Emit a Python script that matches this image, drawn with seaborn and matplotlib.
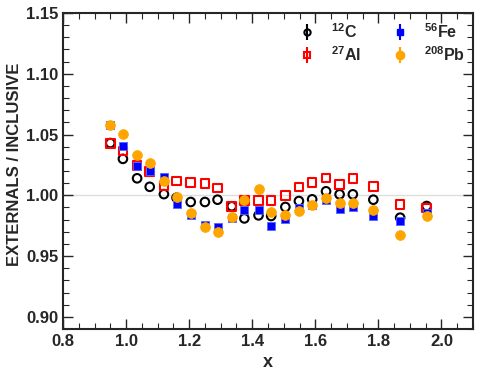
import numpy as np
import pandas as pd
import matplotlib
matplotlib.use('Agg')
import matplotlib.pyplot as plt
from matplotlib.ticker import MultipleLocator, FormatStrFormatter
import seaborn as sns

# x bin centres
x = [0.95, 0.99, 1.035, 1.075, 1.12, 1.16, 1.205, 1.25, 1.29, 1.335, 1.375,
     1.42, 1.46, 1.505, 1.548, 1.59, 1.634, 1.677, 1.719, 1.784, 1.869, 1.953]

# externals / inclusive ratios
c12 = [1.043, 1.030, 1.014, 1.007, 1.001, 0.998, 0.9945, 0.9945, 0.9964, 0.991, 0.981,
       0.9835, 0.9830, 0.9904, 0.9953, 0.9967, 1.0033, 1.0008, 1.0008, 0.9964, 0.9816, 0.9912]
al27 = [1.0426, 1.0365, 1.0245, 1.0198, 1.0077, 1.0118, 1.0104, 1.0096, 1.0060, 0.9909, 0.9959,
        0.9959, 0.9956, 1.0000, 1.0069, 1.0104, 1.0143, 1.0091, 1.0137, 1.0074, 0.9923, 0.9896]
fe56 = [1.0577, 1.0406, 1.0245, 1.0198, 1.0151, 0.9931, 0.9835, 0.9753, 0.9739, 0.9810, 0.9876,
        0.9876, 0.9746, 0.9808, 0.9896, 0.9918, 0.9959, 0.9890, 0.9904, 0.9827, 0.9788, 0.9854]
pb208 = [1.0582, 1.0508, 1.0335, 1.0264, 1.0115, 0.9986, 0.9854, 0.9739, 0.9698, 0.9820, 0.9959,
         1.0055, 0.9866, 0.9835, 0.9868, 0.9918, 0.9978, 0.9940, 0.9940, 0.9876, 0.9676, 0.9827]

labels = [r'$^{12}$C', r'$^{27}$Al', r'$^{56}$Fe', r'$^{208}$Pb']

sns.set_style('ticks')
plt.rcParams['font.family'] = ['Liberation Sans', 'DejaVu Sans']
plt.rcParams['font.weight'] = 'bold'
plt.rcParams['mathtext.fontset'] = 'custom'
plt.rcParams['mathtext.rm'] = 'Liberation Sans:bold'
plt.rcParams['mathtext.bf'] = 'Liberation Sans:bold'

fig = plt.figure(figsize=(4.79, 3.77), dpi=100)
ax = fig.add_axes([0.1315, 0.1273, 0.856, 0.8382])

ax.axhline(1.0, color='#dddddd', lw=1, zorder=0)

sns.scatterplot(x=x, y=c12, marker='o', s=38, facecolor='none', edgecolor='black',
                linewidth=1.5, ax=ax, zorder=3)
sns.scatterplot(x=x, y=al27, marker='s', s=38, facecolor='none', edgecolor='red',
                linewidth=1.5, ax=ax, zorder=3)
sns.scatterplot(x=x, y=fe56, marker='s', s=40, color='blue', edgecolor='#5566ff',
                linewidth=0.6, ax=ax, zorder=3)
sns.scatterplot(x=x, y=pb208, marker='o', s=50, color='#ffa500', edgecolor='#ffa500',
                linewidth=0.5, ax=ax, zorder=3)

# legend entries drawn in the error-bar style
h_c = ax.errorbar([], [], yerr=[], fmt='o', mfc='none', mec='black', ecolor='black',
                  ms=4.5, mew=1.5, elinewidth=1.5)
h_al = ax.errorbar([], [], yerr=[], fmt='s', mfc='none', mec='red', ecolor='red',
                   ms=4.5, mew=1.5, elinewidth=1.5)
h_fe = ax.errorbar([], [], yerr=[], fmt='s', mfc='blue', mec='blue', ecolor='blue',
                   ms=5, elinewidth=1.5)
h_pb = ax.errorbar([], [], yerr=[], fmt='o', mfc='#ffa500', mec='#ffa500', ecolor='#ffa500',
                   ms=6, elinewidth=1.5)
ax.legend([h_c, h_al, h_fe, h_pb], labels,
          ncol=2, frameon=False, loc='upper left', bbox_to_anchor=(0.578, 0.972),
          borderpad=0, borderaxespad=0, fontsize=11.5, handlelength=0.9,
          handletextpad=1.05, columnspacing=2.0, labelspacing=0.28)

ax.set_xlim(0.8, 2.1)
ax.set_ylim(0.89, 1.15)
ax.xaxis.set_major_locator(MultipleLocator(0.2))
ax.xaxis.set_minor_locator(MultipleLocator(0.05))
ax.yaxis.set_major_locator(MultipleLocator(0.05))
ax.yaxis.set_minor_locator(MultipleLocator(0.01))
ax.xaxis.set_major_formatter(FormatStrFormatter('%.1f'))
ax.yaxis.set_major_formatter(FormatStrFormatter('%.2f'))
ax.tick_params(which='both', direction='in', top=True, right=True, labelsize=12)
ax.tick_params(which='major', length=7, width=1)
ax.tick_params(which='minor', length=4, width=0.8)
for sp in ax.spines.values():
    sp.set_linewidth(1.5)

ax.set_xlabel('x', fontsize=13, fontweight='bold', labelpad=4)
ax.set_ylabel('EXTERNALS / INCLUSIVE', fontsize=12, fontweight='bold')
ax.yaxis.set_label_coords(-0.1, 0.52)

plt.savefig('out.png', dpi=100)
